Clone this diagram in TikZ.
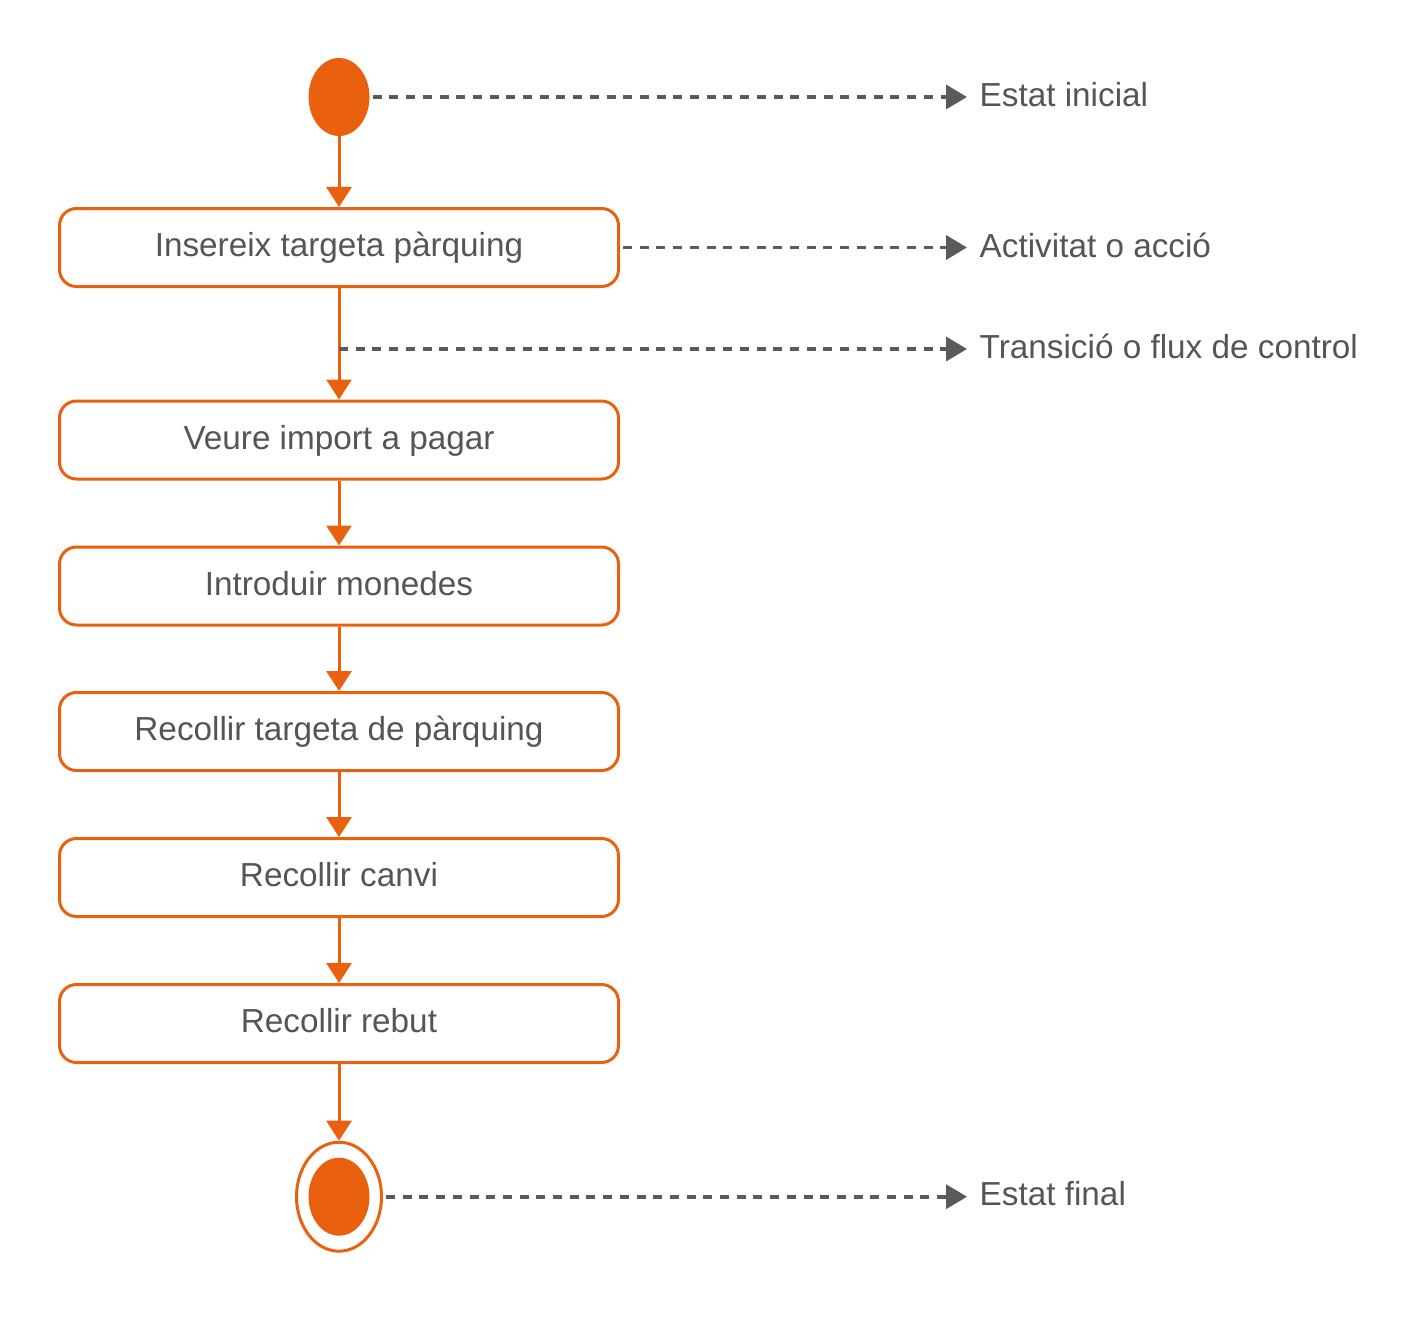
\documentclass[tikz,border=0pt]{standalone}
\usepackage{fontspec}
\setmainfont{Liberation Sans}
\usetikzlibrary{shapes.geometric,arrows.meta}
\definecolor{orng}{HTML}{E9600F}
\definecolor{txtg}{HTML}{555555}
\definecolor{dashg}{HTML}{5A5A5A}
\begin{document}
\begin{tikzpicture}[x=1pt,y=-1pt,
  txt/.style={font=\fontsize{33.3}{40}\selectfont, text=txtg},
  act/.style={txt, draw=orng, line width=3pt, rounded corners=17pt,
    minimum width=559pt, minimum height=78pt, inner sep=0pt,
    text height=24pt, text depth=6pt},
  blob/.style={ellipse, fill=orng, draw=none, minimum width=61pt, minimum height=78pt, inner sep=0pt},
  ring/.style={ellipse, draw=orng, line width=3pt, minimum width=85pt, minimum height=109pt, inner sep=0pt},
  lab/.style={txt, anchor=west, inner sep=0pt, text height=24pt, text depth=5pt},
  flow/.style={draw=orng, line width=3pt, -{Triangle[length=20pt,width=25pt]}},
  note/.style={draw=dashg, line width=3.6pt, dash pattern=on 9pt off 7.7pt,
    -{Triangle[length=21pt,width=24pt]}, shorten <=3pt, shorten >=12.5pt}]
\useasboundingbox (0,0) rectangle (1417,1319);

\node[blob] (init) at (339,97) {};
\node[act] (a1) at (339,247.5) {Insereix targeta pàrquing};
\node[act] (a2) at (339,440) {Veure import a pagar};
\node[act] (a3) at (339,586) {Introduir monedes};
\node[act] (a4) at (339,731.5) {Recollir targeta de pàrquing};
\node[act] (a5) at (339,877.5) {Recollir canvi};
\node[act] (a6) at (339,1023.5) {Recollir rebut};
\node[ring] (fin) at (339,1196.7) {};
\node[blob] (finc) at (339,1196.7) {};

\node[lab] (l1) at (979.5,97) {Estat inicial};
\node[lab] (l2) at (979.5,248) {Activitat o acció};
\node[lab] (l3) at (979.5,349) {Transició o flux de control};
\node[lab] (l4) at (979.5,1196) {Estat final};
\coordinate (tr) at (339,349);

\draw[flow] (init) -- (a1);
\draw[flow] (a1) -- (a2);
\draw[flow] (a2) -- (a3);
\draw[flow] (a3) -- (a4);
\draw[flow] (a4) -- (a5);
\draw[flow] (a5) -- (a6);
\draw[flow] (a6) -- (fin);

\draw[note] (init.east) -- (init.east -| l1.west);
\draw[note] (a1.east) -- (a1.east -| l2.west);
\draw[note, shorten <=0pt] (tr) -- (tr -| l3.west);
\draw[note] (fin.east) -- (fin.east -| l4.west);
\end{tikzpicture}
\end{document}
